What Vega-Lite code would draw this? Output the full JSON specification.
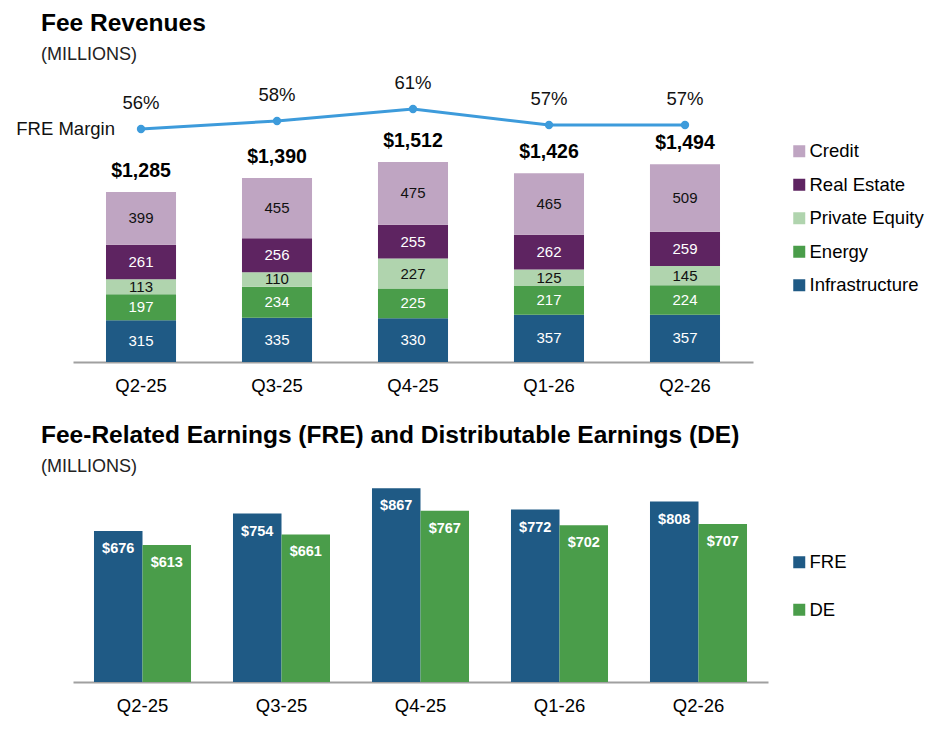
{
  "$schema": "https://vega.github.io/schema/vega-lite/v6.json",
  "padding": {"left": 16, "top": 10, "right": 5, "bottom": 5},
  "spacing": 27,
  "config": {
    "font": "Liberation Sans",
    "view": {"stroke": null},
    "axis": {"grid": false},
    "title": {"anchor": "start", "frame": "group", "dx": -32, "fontSize": 24.5, "fontWeight": "bold", "color": "#000000",
      "subtitleFontSize": 18, "subtitleColor": "#222222", "subtitlePadding": 10}
  },
  "datasets": {
    "fees": [
      {"quarter": "Q2-25", "segment": "Infrastructure", "value": 315},
      {"quarter": "Q2-25", "segment": "Energy", "value": 197},
      {"quarter": "Q2-25", "segment": "Private Equity", "value": 113},
      {"quarter": "Q2-25", "segment": "Real Estate", "value": 261},
      {"quarter": "Q2-25", "segment": "Credit", "value": 399},
      {"quarter": "Q3-25", "segment": "Infrastructure", "value": 335},
      {"quarter": "Q3-25", "segment": "Energy", "value": 234},
      {"quarter": "Q3-25", "segment": "Private Equity", "value": 110},
      {"quarter": "Q3-25", "segment": "Real Estate", "value": 256},
      {"quarter": "Q3-25", "segment": "Credit", "value": 455},
      {"quarter": "Q4-25", "segment": "Infrastructure", "value": 330},
      {"quarter": "Q4-25", "segment": "Energy", "value": 225},
      {"quarter": "Q4-25", "segment": "Private Equity", "value": 227},
      {"quarter": "Q4-25", "segment": "Real Estate", "value": 255},
      {"quarter": "Q4-25", "segment": "Credit", "value": 475},
      {"quarter": "Q1-26", "segment": "Infrastructure", "value": 357},
      {"quarter": "Q1-26", "segment": "Energy", "value": 217},
      {"quarter": "Q1-26", "segment": "Private Equity", "value": 125},
      {"quarter": "Q1-26", "segment": "Real Estate", "value": 262},
      {"quarter": "Q1-26", "segment": "Credit", "value": 465},
      {"quarter": "Q2-26", "segment": "Infrastructure", "value": 357},
      {"quarter": "Q2-26", "segment": "Energy", "value": 224},
      {"quarter": "Q2-26", "segment": "Private Equity", "value": 145},
      {"quarter": "Q2-26", "segment": "Real Estate", "value": 259},
      {"quarter": "Q2-26", "segment": "Credit", "value": 509}
    ],
    "margin": [
      {"quarter": "Q2-25", "margin": 0.56},
      {"quarter": "Q3-25", "margin": 0.58},
      {"quarter": "Q4-25", "margin": 0.61},
      {"quarter": "Q1-26", "margin": 0.57},
      {"quarter": "Q2-26", "margin": 0.57}
    ],
    "earnings": [
      {"quarter": "Q2-25", "series": "FRE", "value": 676},
      {"quarter": "Q2-25", "series": "DE", "value": 613},
      {"quarter": "Q3-25", "series": "FRE", "value": 754},
      {"quarter": "Q3-25", "series": "DE", "value": 661},
      {"quarter": "Q4-25", "series": "FRE", "value": 867},
      {"quarter": "Q4-25", "series": "DE", "value": 767},
      {"quarter": "Q1-26", "series": "FRE", "value": 772},
      {"quarter": "Q1-26", "series": "DE", "value": 702},
      {"quarter": "Q2-26", "series": "FRE", "value": 808},
      {"quarter": "Q2-26", "series": "DE", "value": 707}
    ]
  },
  "vconcat": [
    {
      "width": 680,
      "height": 281,
      "title": {"text": "Fee Revenues", "subtitle": "(MILLIONS)", "offset": 9},
      "layer": [
        {
          "data": {"name": "fees"},
          "transform": [
            {"calculate": "indexof(['Infrastructure','Energy','Private Equity','Real Estate','Credit'], datum.segment)", "as": "key"},
            {"stack": "value", "groupby": ["quarter"], "sort": [{"field": "key", "order": "ascending"}], "as": ["v0", "v1"]},
            {"calculate": "(datum.v0 + datum.v1) / 2", "as": "mid"}
          ],
          "encoding": {
            "x": {
              "field": "quarter", "type": "nominal", "sort": null, "title": null,
              "scale": {"domain": ["Q2-25", "Q3-25", "Q4-25", "Q1-26", "Q2-26"], "paddingInner": 0.485, "paddingOuter": 0.2426},
              "axis": {"labelAngle": 0, "labelFontSize": 18.5, "labelColor": "#000000", "ticks": false, "domainColor": "#a0a0a0", "domainWidth": 2, "labelPadding": 14}
            }
          },
          "layer": [
            {
              "mark": {"type": "bar"},
              "encoding": {
                "y": {"field": "v0", "type": "quantitative", "scale": {"domain": [0, 2124]}, "axis": null},
                "y2": {"field": "v1"},
                "color": {
                  "field": "segment", "type": "nominal",
                  "scale": {
                    "domain": ["Credit", "Real Estate", "Private Equity", "Energy", "Infrastructure"],
                    "range": ["#bfa5c2", "#5e2461", "#b0d4ae", "#4a9d4a", "#1f5a85"]
                  },
                  "legend": {
                    "title": null, "orient": "none", "legendX": 717, "legendY": 61, "padding": 0,
                    "symbolType": "square", "symbolSize": 144, "symbolStrokeWidth": 0, "symbolOpacity": 1,
                    "labelFontSize": 18.5, "labelColor": "#000000", "rowPadding": 14.5, "labelOffset": 1
                  }
                }
              }
            },
            {
              "mark": {"type": "text", "fontSize": 15, "baseline": "middle"},
              "encoding": {
                "y": {"field": "mid", "type": "quantitative", "scale": {"domain": [0, 2124]}},
                "text": {"field": "value", "type": "quantitative"},
                "color": {
                  "condition": {"test": "datum.segment == 'Private Equity' || datum.segment == 'Credit'", "value": "#111111"},
                  "value": "#ffffff"
                }
              }
            }
          ]
        },
        {
          "data": {"name": "fees"},
          "transform": [{"aggregate": [{"op": "sum", "field": "value", "as": "total"}], "groupby": ["quarter"]}],
          "mark": {"type": "text", "fontSize": 19.5, "fontWeight": "bold", "baseline": "middle", "dy": -21, "color": "#000000"},
          "encoding": {
            "x": {"field": "quarter", "type": "nominal", "sort": null},
            "y": {"field": "total", "type": "quantitative", "scale": {"domain": [0, 2124]}, "axis": null},
            "text": {"field": "total", "type": "quantitative", "format": "$,d"}
          }
        },
        {
          "data": {"name": "margin"},
          "encoding": {
            "x": {"field": "quarter", "type": "nominal", "sort": null},
            "y": {"field": "margin", "type": "quantitative", "scale": {"domain": [-0.0225, 0.68]}, "axis": null}
          },
          "layer": [
            {"mark": {"type": "line", "color": "#3d9bdb", "strokeWidth": 3}},
            {"mark": {"type": "point", "filled": true, "color": "#3d9bdb", "size": 70, "opacity": 1}},
            {
              "mark": {"type": "text", "fontSize": 18.5, "baseline": "middle", "dy": -26, "color": "#111111"},
              "encoding": {"text": {"field": "margin", "type": "quantitative", "format": ".0%"}}
            },
            {
              "transform": [{"filter": "datum.quarter == 'Q2-25'"}],
              "mark": {"type": "text", "fontSize": 18.5, "baseline": "middle", "align": "right", "dx": -26, "color": "#111111"},
              "encoding": {"text": {"value": "FRE Margin"}}
            }
          ]
        }
      ],
      "resolve": {"scale": {"y": "independent"}}
    },
    {
      "width": 695,
      "height": 201,
      "title": {"text": "Fee-Related Earnings (FRE) and Distributable Earnings (DE)", "subtitle": "(MILLIONS)", "offset": 4},
      "data": {"name": "earnings"},
      "encoding": {
        "x": {
          "field": "quarter", "type": "nominal", "sort": null, "title": null,
          "scale": {"paddingInner": 0.302, "paddingOuter": 0.151},
          "axis": {"labelAngle": 0, "labelFontSize": 18.5, "labelColor": "#000000", "ticks": false, "domainColor": "#a0a0a0", "domainWidth": 2, "labelPadding": 14}
        },
        "xOffset": {"field": "series", "type": "nominal", "sort": ["FRE", "DE"], "scale": {"paddingInner": 0}},
        "y": {"field": "value", "type": "quantitative", "scale": {"domain": [0, 900]}, "axis": null}
      },
      "layer": [
        {
          "mark": {"type": "bar"},
          "encoding": {
            "color": {
              "field": "series", "type": "nominal",
              "scale": {"domain": ["FRE", "DE"], "range": ["#1f5a85", "#4a9d4a"]},
              "legend": {
                "title": null, "orient": "none", "legendX": 717, "legendY": 72, "padding": 0,
                "symbolType": "square", "symbolSize": 144, "symbolStrokeWidth": 0, "symbolOpacity": 1,
                "labelFontSize": 18.5, "labelColor": "#000000", "rowPadding": 28.5, "labelOffset": 1
              }
            }
          }
        },
        {
          "mark": {"type": "text", "fontSize": 14.5, "fontWeight": "bold", "baseline": "middle", "dy": 18, "color": "#ffffff"},
          "encoding": {"text": {"field": "value", "type": "quantitative", "format": "$,d"}}
        }
      ]
    }
  ],
  "resolve": {"scale": {"color": "independent"}, "legend": {"color": "independent"}}
}
